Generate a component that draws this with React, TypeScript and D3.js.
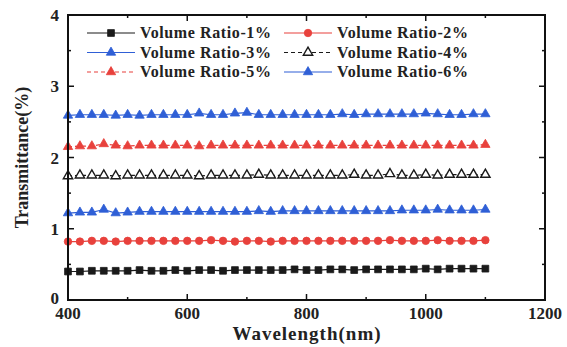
import React, { useEffect, useRef } from 'react';
import * as d3 from 'd3';

// wavelengths (nm) where markers were sampled
const wavelength = [400, 420, 440, 460, 480, 500, 520, 540, 560, 580, 600, 620, 640, 660, 680, 700, 720, 740,
  760, 780, 800, 820, 840, 860, 880, 900, 920, 940, 960, 980, 1000, 1020, 1040, 1060, 1080, 1100];

const ratio1 = [0.40, 0.40, 0.41, 0.41, 0.41, 0.41, 0.42, 0.41, 0.41, 0.42, 0.41, 0.42, 0.42, 0.41, 0.42, 0.42, 0.42, 0.42,
  0.42, 0.43, 0.42, 0.42, 0.43, 0.43, 0.42, 0.43, 0.43, 0.43, 0.43, 0.43, 0.44, 0.43, 0.44, 0.44, 0.44, 0.44];
const ratio2 = [0.82, 0.82, 0.83, 0.83, 0.82, 0.83, 0.83, 0.83, 0.83, 0.83, 0.83, 0.83, 0.84, 0.83, 0.82, 0.83, 0.83, 0.82,
  0.83, 0.83, 0.83, 0.83, 0.83, 0.83, 0.83, 0.83, 0.83, 0.84, 0.83, 0.83, 0.83, 0.84, 0.83, 0.83, 0.83, 0.84];
const ratio3 = [1.22, 1.23, 1.23, 1.27, 1.22, 1.23, 1.24, 1.24, 1.24, 1.24, 1.24, 1.24, 1.24, 1.24, 1.24, 1.24, 1.25, 1.24,
  1.25, 1.25, 1.25, 1.25, 1.25, 1.25, 1.25, 1.25, 1.25, 1.25, 1.26, 1.26, 1.26, 1.27, 1.26, 1.26, 1.26, 1.27];
const ratio4 = [1.74, 1.75, 1.75, 1.75, 1.74, 1.75, 1.75, 1.75, 1.75, 1.75, 1.75, 1.74, 1.75, 1.75, 1.75, 1.75, 1.76, 1.75,
  1.75, 1.75, 1.75, 1.75, 1.75, 1.75, 1.76, 1.75, 1.75, 1.77, 1.75, 1.75, 1.76, 1.75, 1.76, 1.76, 1.76, 1.76];
const ratio5 = [2.15, 2.16, 2.16, 2.19, 2.17, 2.16, 2.17, 2.17, 2.17, 2.17, 2.17, 2.16, 2.17, 2.17, 2.17, 2.17, 2.17, 2.17,
  2.17, 2.17, 2.17, 2.17, 2.17, 2.17, 2.17, 2.17, 2.17, 2.17, 2.17, 2.17, 2.17, 2.17, 2.17, 2.17, 2.17, 2.18];
const ratio6 = [2.59, 2.60, 2.60, 2.60, 2.59, 2.60, 2.59, 2.60, 2.60, 2.60, 2.60, 2.62, 2.60, 2.60, 2.62, 2.63, 2.60, 2.60,
  2.60, 2.60, 2.60, 2.60, 2.60, 2.61, 2.60, 2.61, 2.61, 2.61, 2.61, 2.61, 2.62, 2.61, 2.60, 2.60, 2.61, 2.61];

const seriesNames = ['Volume Ratio-1%', 'Volume Ratio-2%', 'Volume Ratio-3%', 'Volume Ratio-4%', 'Volume Ratio-5%', 'Volume Ratio-6%'];
const seriesValues = [ratio1, ratio2, ratio3, ratio4, ratio5, ratio6];
const seriesColors = ['#1a1a1a', '#e8413c', '#2f5fd6', '#1a1a1a', '#e8413c', '#2f5fd6'];
const seriesMarker = ['square', 'circle', 'triangle', 'triangle-open', 'triangle', 'triangle'];
const seriesDash = ['', '', '', '4,3', '4,3', ''];

const xTicks = [400, 600, 800, 1000, 1200];
const yTicks = [0, 1, 2, 3, 4];

const W = 567;
const H = 347;

function App() {
  const ref = useRef<SVGSVGElement>(null);

  useEffect(() => {
    const svg = d3.select(ref.current);
    svg.selectAll('*').remove();

    const left = 68, right = 545, top = 15, bottom = 300;
    const x = d3.scaleLinear().domain([400, 1200]).range([left, right]);
    const y = d3.scaleLinear().domain([0, 4]).range([bottom, top]);
    const font = "'Liberation Serif', 'DejaVu Serif', serif";

    const sym = (kind: string) => {
      if (kind === 'square') return d3.symbol(d3.symbolSquare, 46)();
      if (kind === 'circle') return d3.symbol(d3.symbolCircle, 44)();
      return d3.symbol(d3.symbolTriangle, 38)();
    };

    const drawMarker = (g: any, kind: string, color: string, cx: number, cy: number) => {
      const open = kind === 'triangle-open';
      g.append('path')
        .attr('d', sym(kind))
        .attr('transform', `translate(${cx},${cy})`)
        .attr('fill', open ? 'white' : color)
        .attr('stroke', color)
        .attr('stroke-width', open ? 1.4 : 0.8);
    };

    // series
    seriesValues.forEach((vals, i) => {
      const pts = wavelength.map((w, j) => [x(w), y(vals[j])] as [number, number]);
      const g = svg.append('g');
      g.append('path')
        .attr('d', d3.line()(pts))
        .attr('fill', 'none')
        .attr('stroke', seriesColors[i])
        .attr('stroke-width', 1.2)
        .attr('stroke-dasharray', seriesDash[i]);
      pts.forEach(p => drawMarker(g, seriesMarker[i], seriesColors[i], p[0], p[1]));
    });

    // frame
    svg.append('rect')
      .attr('x', left).attr('y', top)
      .attr('width', right - left).attr('height', bottom - top)
      .attr('fill', 'none').attr('stroke', '#111').attr('stroke-width', 2);

    const tickG = svg.append('g').attr('stroke', '#111').attr('stroke-width', 1.5);
    // x ticks (inward, bottom and top), minor every 100
    d3.range(400, 1201, 100).forEach(v => {
      const len = v % 200 === 0 ? 6 : 3;
      tickG.append('line').attr('x1', x(v)).attr('x2', x(v)).attr('y1', bottom).attr('y2', bottom - len);
      tickG.append('line').attr('x1', x(v)).attr('x2', x(v)).attr('y1', top).attr('y2', top + len);
    });
    // y ticks, minor every 0.5
    d3.range(0, 4.01, 0.5).forEach(v => {
      const len = Math.abs(v % 1) < 1e-6 ? 6 : 3;
      tickG.append('line').attr('x1', left).attr('x2', left + len).attr('y1', y(v)).attr('y2', y(v));
      tickG.append('line').attr('x1', right).attr('x2', right - len).attr('y1', y(v)).attr('y2', y(v));
    });

    // tick labels
    svg.append('g').selectAll('text').data(xTicks).join('text')
      .attr('x', d => x(d)).attr('y', bottom + 19)
      .attr('text-anchor', 'middle')
      .attr('font-family', font).attr('font-size', 17).attr('font-weight', 'bold')
      .attr('fill', '#222')
      .text(d => d);
    svg.append('g').selectAll('text').data(yTicks).join('text')
      .attr('x', left - 9).attr('y', d => y(d) + (d === 0 ? 4 : 6))
      .attr('text-anchor', 'end')
      .attr('font-family', font).attr('font-size', 17).attr('font-weight', 'bold')
      .attr('fill', '#222')
      .text(d => d);

    // axis titles
    svg.append('text')
      .attr('x', 307).attr('y', 340)
      .attr('text-anchor', 'middle')
      .attr('font-family', font).attr('font-size', 19).attr('font-weight', 'bold')
      .attr('letter-spacing', 1)
      .attr('fill', '#222')
      .text('Wavelength(nm)');
    svg.append('text')
      .attr('transform', `translate(28,${(top + bottom) / 2}) rotate(-90)`)
      .attr('text-anchor', 'middle')
      .attr('font-family', font).attr('font-size', 18).attr('font-weight', 'bold')
      .attr('fill', '#222')
      .text('Transmittance(%)');

    // legend, two columns
    const legend = svg.append('g');
    seriesNames.forEach((name, i) => {
      const col = i % 2;
      const row = Math.floor(i / 2);
      const lx = col === 0 ? 87 : 284;
      const ly = 33 + row * 19.5;
      legend.append('line')
        .attr('x1', lx).attr('x2', lx + 48).attr('y1', ly).attr('y2', ly)
        .attr('stroke', seriesColors[i]).attr('stroke-width', 1.2)
        .attr('stroke-dasharray', seriesDash[i]);
      drawMarker(legend, seriesMarker[i], seriesColors[i], lx + 24, ly);
      legend.append('text')
        .attr('x', lx + 53).attr('y', ly + 5)
        .attr('font-family', font).attr('font-size', 16).attr('font-weight', 'bold')
        .attr('letter-spacing', 0.6)
        .attr('fill', '#222')
        .text(name);
    });
  }, []);

  return (
    <svg ref={ref} width={W} height={H}
      style={{ position: 'absolute', left: 0, top: 0, background: 'white' }} />
  );
}

export default App;
